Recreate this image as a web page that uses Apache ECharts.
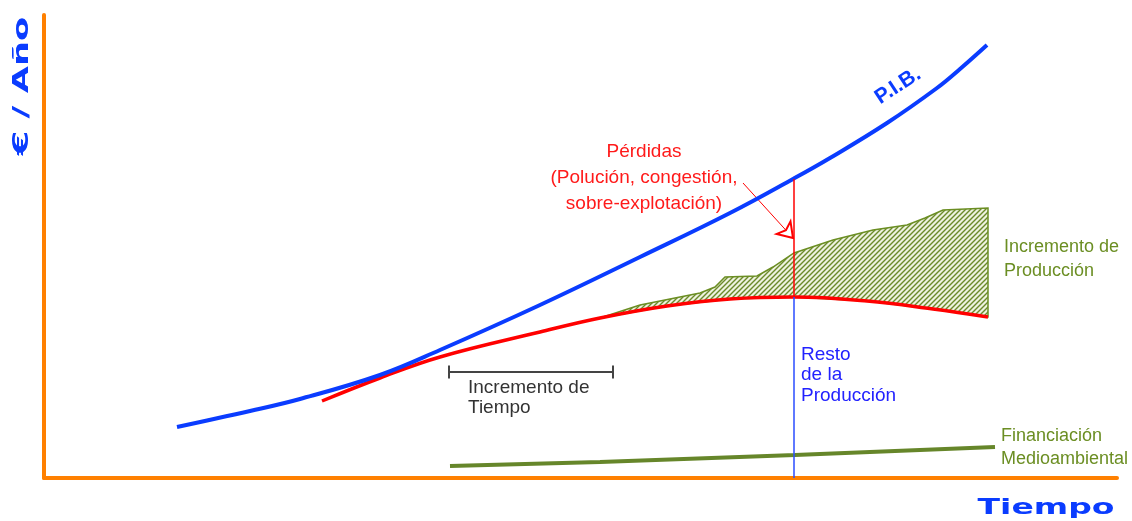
<!DOCTYPE html>
<html>
<head>
<meta charset="utf-8">
<title>PIB y pérdidas</title>
<script src="https://cdn.jsdelivr.net/npm/echarts@6.0.0/dist/echarts.min.js"></script>
<style>
  html, body { margin: 0; padding: 0; background: #fff; }
  #main { width: 1132px; height: 521px; }
</style>
</head>
<body>
<div id="main"></div>
<script>
// values (x: time, y: €/año, arbitrary units)
const pibX = [133, 206, 256, 336, 396, 496, 596, 686, 749, 786, 843, 893, 916, 943];
const pibY = [51, 67, 79, 103, 128, 173, 221, 265, 299, 320, 355, 390, 409, 433];

// resto de la producción (red curve)
const restoX = [278, 336, 396, 496, 556, 623, 686, 750, 823, 889, 944];
const restoY = [77, 100, 121, 146, 160, 172, 179, 181, 177, 169, 161];

// upper edge of "Incremento de Producción"
const incX = [556, 596, 656, 671, 681, 713, 729, 750, 789, 829, 863, 881, 899, 944];
const incY = [160, 173, 185, 191, 201, 202, 211, 225, 238, 248, 253, 260, 268, 270];

// financiación medioambiental
const finX = [406, 556, 751, 951];
const finY = [12, 16, 23, 31];

// cut at the reference time
const cutX = 750;
const cutPib = 299;
const cutResto = 181;

// arrow "Pérdidas" and the time bracket
const arrowFrom = [699, 295];
const arrowTo = [749, 240];
const bracketX = [405, 569];
const bracketY = 106;

const zip = (xs, ys) => xs.map((x, i) => [x, ys[i]]);

function hatch() {
	const c = document.createElement('canvas');
	c.width = 5;
	c.height = 5;
	const g = c.getContext('2d');
	g.fillStyle = '#eef2df';
	g.fillRect(0, 0, 5, 5);
	g.strokeStyle = '#6b8a2a';
	g.lineWidth = 1.4;
	g.beginPath();
	g.moveTo(0, 5); g.lineTo(5, 0);
	g.moveTo(-1, 1); g.lineTo(1, -1);
	g.moveTo(4, 6); g.lineTo(6, 4);
	g.stroke();
	return c;
}
const hatchCanvas = hatch();

const txt = (x, y, text, color, extra) => ({
	type: 'text',
	x: x,
	y: y,
	z: 100,
	style: Object.assign({
		text: text,
		fill: color,
		font: '19px "Liberation Sans", Arial, sans-serif',
		align: 'left',
		verticalAlign: 'middle'
	}, extra || {})
});

const myChart = echarts.init(document.getElementById('main'));

const axisLine = { show: true, lineStyle: { color: '#ff8000', width: 4 } };

option = {
	animation: false,
	backgroundColor: '#ffffff',
	grid: { left: 44, right: 15, top: 15, bottom: 43 },
	xAxis: {
		type: 'value', min: 0, max: 1073,
		axisLine: axisLine, axisTick: { show: false }, axisLabel: { show: false }, splitLine: { show: false }
	},
	yAxis: {
		type: 'value', min: 0, max: 463,
		axisLine: axisLine, axisTick: { show: false }, axisLabel: { show: false }, splitLine: { show: false }
	},
	series: [
		{
			// hatched area between the two curves
			type: 'custom',
			z: 2,
			data: [[incX[0], incY[0]]],
			renderItem: function (params, api) {
				const top = incX.map((x, i) => api.coord([x, incY[i]]));
				const bottom = zip(restoX, restoY).filter(p => p[0] >= incX[0]).map(p => api.coord(p)).reverse();
				return {
					type: 'polygon',
					shape: { points: top.concat(bottom), smooth: 0 },
					style: {
						fill: { image: hatchCanvas, repeat: 'repeat' },
						stroke: '#6b8e23',
						lineWidth: 1.5
					}
				};
			}
		},
		{
			name: 'P.I.B.',
			type: 'line',
			z: 6,
			smooth: 0.4,
			symbol: 'none',
			data: zip(pibX, pibY),
			lineStyle: { color: '#0a3cff', width: 4 }
		},
		{
			name: 'Resto de la Producción',
			type: 'line',
			z: 5,
			smooth: 0.4,
			symbol: 'none',
			data: zip(restoX, restoY),
			lineStyle: { color: '#ff0000', width: 3.5 }
		},
		{
			name: 'Financiación Medioambiental',
			type: 'line',
			z: 5,
			symbol: 'none',
			data: zip(finX, finY),
			lineStyle: { color: '#66862a', width: 4 }
		},
		{
			// red cut: pérdidas
			type: 'line',
			z: 7,
			symbol: 'none',
			data: [[cutX, cutResto], [cutX, cutPib]],
			lineStyle: { color: '#ff0000', width: 1.5 },
			markLine: {
				silent: true,
				symbol: ['none', 'emptyArrow'],
				symbolSize: 14,
				label: { show: false },
				lineStyle: { color: '#ff0000', width: 1, type: 'solid' },
				data: [[{ coord: arrowFrom }, { coord: arrowTo }]]
			}
		},
		{
			// blue cut: resto de la producción
			type: 'line',
			z: 7,
			symbol: 'none',
			data: [[cutX, 0], [cutX, cutResto]],
			lineStyle: { color: '#2a4cff', width: 1.5 }
		},
		{
			// incremento de tiempo
			type: 'line',
			z: 7,
			symbol: 'rect',
			symbolSize: [2, 13],
			itemStyle: { color: '#444444' },
			data: bracketX.map(x => [x, bracketY]),
			lineStyle: { color: '#444444', width: 2 }
		}
	],
	graphic: [
		txt(644, 178, 'Pérdidas\n(Polución, congestión,\nsobre-explotación)', '#ff1a1a', { align: 'center', lineHeight: 26 }),
		txt(468, 398, 'Incremento de\nTiempo', '#333333', { lineHeight: 20 }),
		txt(801, 375, 'Resto\nde la\nProducción', '#2222ff', { lineHeight: 20.5 }),
		txt(1004, 259, 'Incremento de\nProducción', '#6b8e23', { lineHeight: 24, font: '18px "Liberation Sans", Arial, sans-serif' }),
		txt(1001, 448, 'Financiación\nMedioambiental', '#6b8e23', { lineHeight: 23, font: '18px "Liberation Sans", Arial, sans-serif' }),
		{
			type: 'text', x: 898, y: 86, rotation: 0.58, z: 100,
			style: { text: 'P.I.B.', fill: '#0a3cff', font: 'bold 21px "Liberation Sans", Arial, sans-serif', align: 'center', verticalAlign: 'middle' }
		},
		{
			type: 'text', x: 22, y: 86, rotation: Math.PI / 2, scaleX: 1.6, z: 100,
			style: { text: '€ / Año', fill: '#0a3cff', font: 'bold 22px "DejaVu Sans", sans-serif', align: 'center', verticalAlign: 'middle' }
		},
		{
			type: 'text', x: 1046, y: 508, scaleX: 1.5, z: 100,
			style: { text: 'Tiempo', fill: '#0a3cff', font: 'bold 22px "DejaVu Sans", sans-serif', align: 'center', verticalAlign: 'middle' }
		}
	]
};
myChart.setOption(option);
window.onresize = myChart.resize;
</script>
</body>
</html>
